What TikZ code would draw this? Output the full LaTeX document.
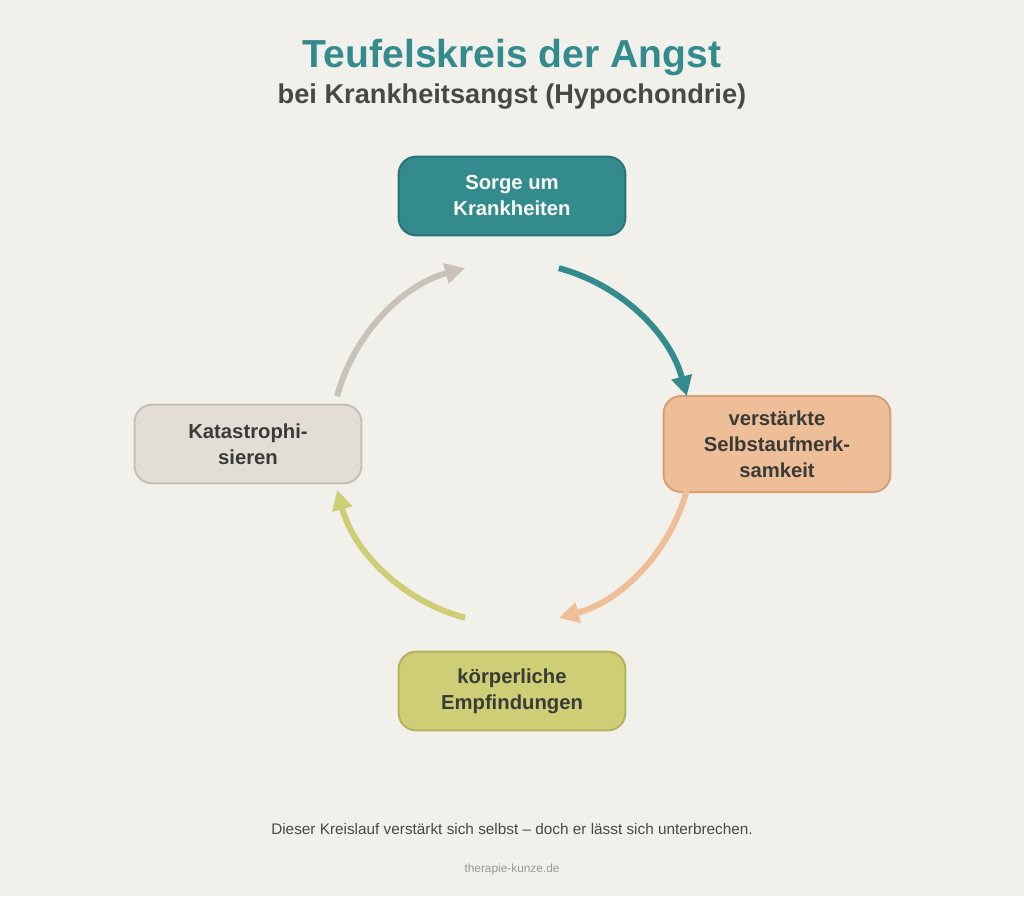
\documentclass[tikz,border=0pt]{standalone}
\usepackage{fontspec}
\setmainfont{Liberation Sans}
\usetikzlibrary{arrows.meta}
\definecolor{bgcol}{HTML}{F2F0EB}
\definecolor{tealfill}{HTML}{338B8E}
\definecolor{tealline}{HTML}{2B7477}
\definecolor{peachfill}{HTML}{EDBE98}
\definecolor{peachline}{HTML}{D9A077}
\definecolor{olivefill}{HTML}{CDCE75}
\definecolor{oliveline}{HTML}{B3B55A}
\definecolor{greyfill}{HTML}{E2DDD7}
\definecolor{greyline}{HTML}{C6BFB8}
\definecolor{greyarrow}{HTML}{C9C2BB}
\definecolor{darktext}{HTML}{3A3A36}
\definecolor{subtext}{HTML}{4A4844}
\begin{document}
\begin{tikzpicture}
[
    x=0.75pt, y=0.75pt,
    box/.style={draw, line width=1.5pt, rounded corners=13pt, minimum width=170pt,
        align=center, font=\fontsize{15.2}{19.5}\selectfont\bfseries, text=darktext},
    cycle arrow/.style={line width=4.5pt, -{Triangle[length=15pt,width=15pt]}}
]
    \fill [bgcol] (0,0) rectangle (1024,-896);
    \useasboundingbox (0,0) rectangle (1024,-896);
    % titles
    \node (title) at (512,-57) [font=\fontsize{29.3}{33}\selectfont\bfseries, text=tealfill]
        {Teufelskreis der Angst};
    \node (subtitle) at (512,-97) [font=\fontsize{20.4}{24}\selectfont\bfseries, text=subtext]
        {bei Krankheitsangst (Hypochondrie)};
    % the four stages
    \node (sorge) at (512,-196) [box, fill=tealfill, draw=tealline, text=white, minimum height=59pt]
        {Sorge um\\Krankheiten};
    \node (fokus) at (777,-444) [box, fill=peachfill, draw=peachline, minimum height=72pt]
        {verstärkte\\Selbstaufmerk-\\samkeit};
    \node (koerper) at (512,-691) [box, fill=olivefill, draw=oliveline, minimum height=59pt]
        {körperliche\\Empfindungen};
    \node (katast) at (248,-444) [box, fill=greyfill, draw=greyline, minimum height=59pt]
        {Katastrophi-\\sieren};
    % the cycle
    \coordinate (mid) at (512,-443);
    \coordinate (a1) at ([shift={(75:181)}]mid);
    \coordinate (a2) at ([shift={(-15:181)}]mid);
    \coordinate (a3) at ([shift={(-105:181)}]mid);
    \coordinate (a4) at ([shift={(165:181)}]mid);
    \draw [cycle arrow, tealfill] (a1) arc [start angle=75, end angle=15, radius=181];
    \draw [cycle arrow, peachfill] (a2) arc [start angle=-15, end angle=-75, radius=181];
    \draw [cycle arrow, olivefill] (a3) arc [start angle=-105, end angle=-165, radius=181];
    \draw [cycle arrow, greyarrow] (a4) arc [start angle=165, end angle=105, radius=181];
    % footer
    \node (note) at (512,-829) [font=\fontsize{11.5}{14}\selectfont, text=subtext]
        {Dieser Kreislauf verstärkt sich selbst – doch er lässt sich unterbrechen.};
    \node (site) at (512,-869) [font=\fontsize{8.9}{10}\selectfont, text=black!40]
        {therapie-kunze.de};
\end{tikzpicture}
\end{document}
